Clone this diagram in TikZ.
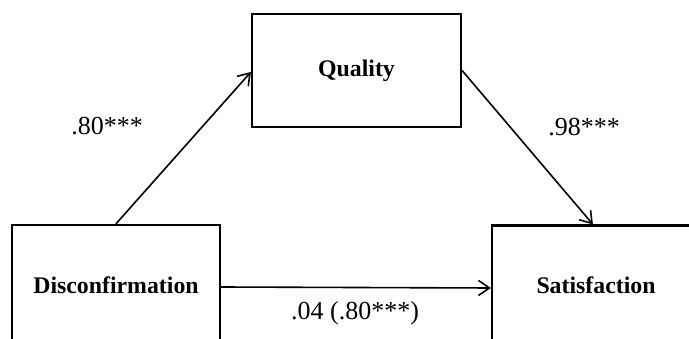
\documentclass[tikz,border=0pt]{standalone}
\usepackage{fontspec}
\setmainfont{Liberation Serif}
\usetikzlibrary{arrows.meta}
\begin{document}
\begin{tikzpicture}[x=1pt,y=-1pt,
  varbox/.style={draw=black, line width=2.2pt, fill=white, inner sep=0pt,
    font=\fontsize{23.8}{28}\selectfont\bfseries},
  path/.style={line width=1.6pt, -{Straight Barb[length=11pt,width=15pt,line width=1.6pt]}},
  coef/.style={font=\fontsize{26}{31}\selectfont, inner sep=0pt}]
  \useasboundingbox (0,0) rectangle (689,339);
  \clip (0,0) rectangle (689,339);
  % variables
  \node[varbox, minimum width=209pt, minimum height=113pt] (qual) at (356.5,70.5) {Quality};
  \node[varbox, minimum width=208pt, minimum height=120pt] (disc) at (116,285) {Disconfirmation};
  \node[varbox, minimum width=208pt, minimum height=120pt] (sat) at (596,285.5) {Satisfaction};
  % paths
  \draw[path] ([xshift=105pt]disc.north west) -- ([yshift=-1.5pt]qual.west);
  \draw[path] (qual.east) -- ([xshift=102pt]sat.north west);
  \draw[path] ([yshift=-2pt]disc.east) -- ([yshift=-2.5pt]sat.west);
  % coefficients
  \node[coef] (a) at (107,126) {.80***};
  \node[coef] (b) at (584,127) {.98***};
  \node[coef] (c) at (355,313) {.04 (.80***)};
\end{tikzpicture}
\end{document}
